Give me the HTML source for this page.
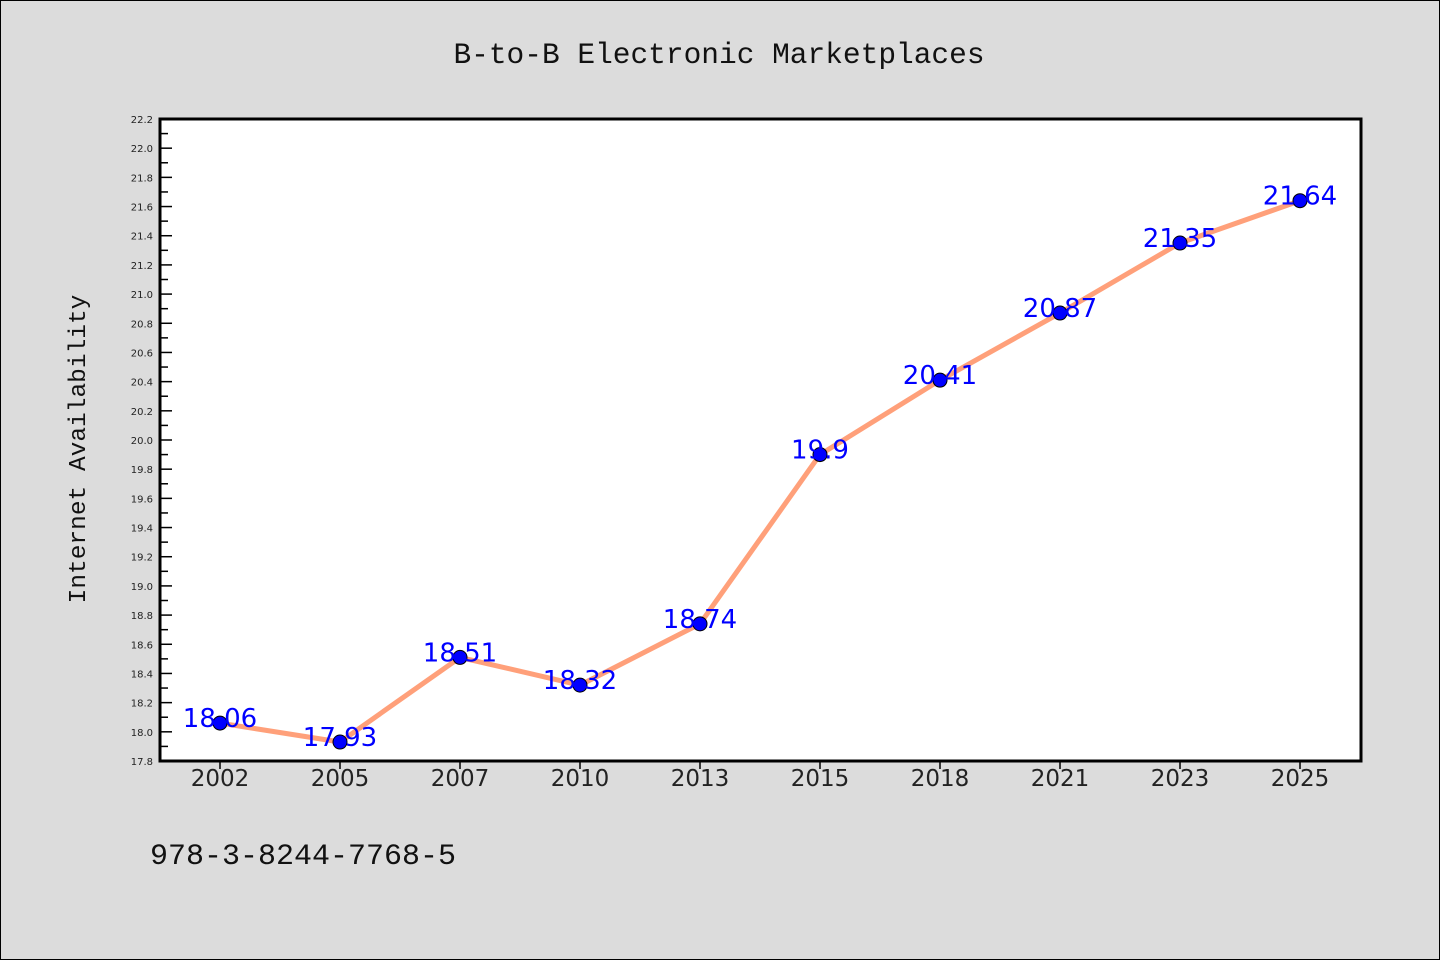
<!DOCTYPE html>
<html><head><meta charset="utf-8"><style>
body{margin:0;background:#dcdcdc;}
svg{display:block}
</style></head><body>
<svg id="c" width="1440" height="960" xmlns="http://www.w3.org/2000/svg">
<rect x="0.5" y="0.5" width="1439" height="959" fill="#dcdcdc" stroke="#000"/>
<text x="719" y="63" text-anchor="middle" font-family="Liberation Mono, monospace" font-size="29.5" fill="#111">B-to-B Electronic Marketplaces</text>
<text transform="translate(85,449) rotate(-90)" text-anchor="middle" font-family="Liberation Mono, monospace" font-size="24.5" fill="#111">Internet Availability</text>
<text x="150" y="864" font-family="Liberation Mono, monospace" font-size="30" fill="#111">978-3-8244-7768-5</text>
<rect x="160" y="119" width="1201" height="642" fill="#fff"/>
<g id="g"></g>
<rect x="160" y="119" width="1201" height="642" fill="none" stroke="#000" stroke-width="3"/>
</svg>
<script>
const years=["2002","2005","2007","2010","2013","2015","2018","2021","2023","2025"];
const values=[18.06,17.93,18.51,18.32,18.74,19.9,20.41,20.87,21.35,21.64];
const labels=["18.06","17.93","18.51","18.32","18.74","19.9","20.41","20.87","21.35","21.64"];
const yTicks=[17.8,18.0,18.2,18.4,18.6,18.8,19.0,19.2,19.4,19.6,19.8,20.0,20.2,20.4,20.6,20.8,21.0,21.2,21.4,21.6,21.8,22.0,22.2];
(function(){
const yMin=17.8,yMax=22.2,pTop=119,pBot=761,pLeft=160;
const NS="http://www.w3.org/2000/svg";
const g=document.getElementById('g');
function ys(v){return pBot-(v-yMin)/(yMax-yMin)*(pBot-pTop);}
function xs(i){return 220+i*120;}
function mk(t,a){const e=document.createElementNS(NS,t);for(const k in a)e.setAttribute(k,a[k]);g.appendChild(e);return e;}
yTicks.forEach((v,i)=>{
  const l=mk('line',{x1:pLeft,x2:pLeft+12,y1:ys(v),y2:ys(v),stroke:'#000','stroke-width':1.5});
  
  
  if(i<yTicks.length-1){const m=mk('line',{x1:pLeft,x2:pLeft+8,y1:(ys(v)+ys(yTicks[i+1]))/2,y2:(ys(v)+ys(yTicks[i+1]))/2,stroke:'#000','stroke-width':1.5});
  
  }
  const t=mk('text',{x:153,y:ys(v)+4,'text-anchor':'end','font-family':'DejaVu Sans, sans-serif','font-size':10,fill:'#222'});
  t.textContent=v.toFixed(1);
  
  
});
years.forEach((yr,i)=>{
  const l=mk('line',{x1:xs(i),x2:xs(i),y1:pBot,y2:pBot+8,stroke:'#000','stroke-width':1.5});
  
  
  const t=mk('text',{x:xs(i),y:pBot+25,'text-anchor':'middle','font-family':'DejaVu Sans, sans-serif','font-size':23,fill:'#222'});
  t.textContent=yr;
  
  
});
const pl=mk('polyline',{points:values.map((v,i)=>xs(i)+','+ys(v)).join(' '),fill:'none',stroke:'#ffa07a','stroke-width':5,'stroke-linejoin':'round'});


values.forEach((v,i)=>{
  const c=mk('circle',{cx:xs(i),cy:ys(v),r:7,fill:'#0000ff',stroke:'#000','stroke-width':1});
  
  
  const t=mk('text',{x:xs(i),y:ys(v)+4,'text-anchor':'middle','font-family':'DejaVu Sans, sans-serif','font-size':26,fill:'#0000ff'});
  t.textContent=labels[i];
  
  
});
})();
</script>
</body></html>
